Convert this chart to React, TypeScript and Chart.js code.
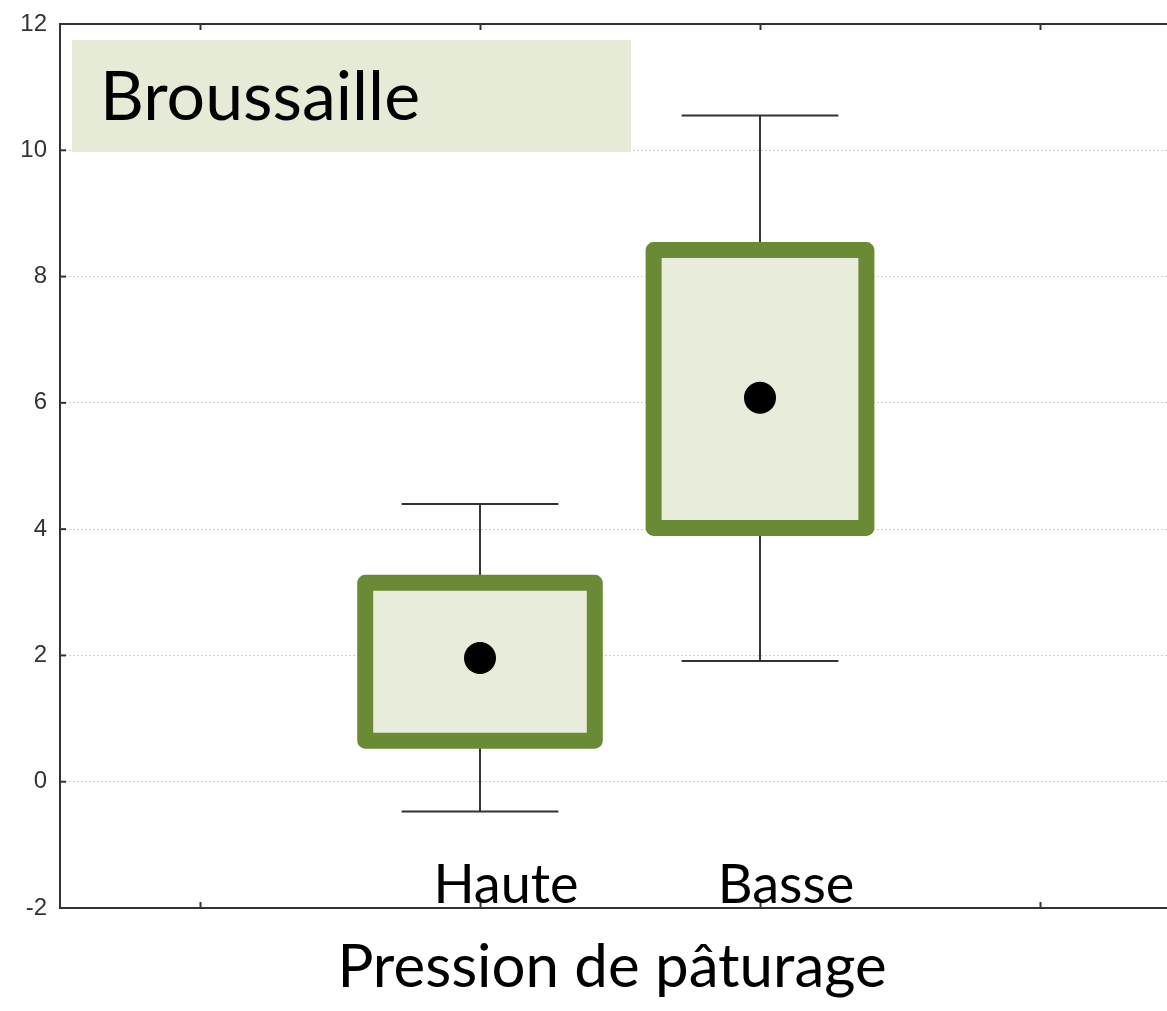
import React, { useEffect, useRef } from "react";
import { Chart, registerables } from "chart.js";

Chart.register(...registerables);

// ---- data ----
const categories = ["Haute", "Basse"];
const categoryPositions = [2, 3];
const q1Values = [0.65, 4.02];
const q3Values = [3.15, 8.42];
const meanValues = [1.96, 6.08];
const whiskerLow = [-0.47, 1.91];
const whiskerHigh = [4.4, 10.55];
const yTicks = [-2, 0, 2, 4, 6, 8, 10, 12];
const xTickPositions = [1, 2, 3, 4];
const panelTitle = "Broussaille";
const xAxisTitle = "Pression de pâturage";

// ---- style ----
const boxHalfWidth = [0.41, 0.38];
const capHalfWidth = 0.28;
const GREEN = "#6b8a35";
const BOX_FILL = "#e8eddb";
const LABEL_FONT = "Lato, 'Open Sans', sans-serif";

const W = 1167;
const H = 1011;

const drawPlugin = {
  id: "boxDraw",
  beforeDatasetsDraw(chart: any) {
    const { ctx, chartArea, scales } = chart;
    const xs = scales.x;
    const ys = scales.y;
    ctx.save();

    // top axis line
    ctx.strokeStyle = "#333";
    ctx.lineWidth = 2;
    ctx.beginPath();
    ctx.moveTo(chartArea.left, chartArea.top);
    ctx.lineTo(chartArea.right, chartArea.top);
    ctx.stroke();

    // inward ticks on x (top & bottom)
    ctx.lineWidth = 2;
    xTickPositions.forEach((v) => {
      const px = Math.round(xs.getPixelForValue(v)) + 0.5;
      ctx.beginPath();
      ctx.moveTo(px, chartArea.bottom);
      ctx.lineTo(px, chartArea.bottom - 6);
      ctx.moveTo(px, chartArea.top);
      ctx.lineTo(px, chartArea.top + 6);
      ctx.stroke();
    });
    // inward ticks on y
    yTicks.forEach((v) => {
      const py = ys.getPixelForValue(v);
      ctx.beginPath();
      ctx.moveTo(chartArea.left, py);
      ctx.lineTo(chartArea.left + 6, py);
      ctx.stroke();
    });

    // panel title box
    ctx.fillStyle = "#e6ebd8";
    ctx.fillRect(chartArea.left + 12, 40, 559, 112);
    ctx.fillStyle = "#000";
    ctx.font = `68px ${LABEL_FONT}`;
    ctx.textAlign = "left";
    ctx.textBaseline = "alphabetic";
    ctx.fillText(panelTitle, chartArea.left + 40, 120);

    // whiskers and boxes
    categories.forEach((_, i) => {
      const cx = xs.getPixelForValue(categoryPositions[i]);
      const capL = xs.getPixelForValue(categoryPositions[i] - capHalfWidth);
      const capR = xs.getPixelForValue(categoryPositions[i] + capHalfWidth);
      const yHi = ys.getPixelForValue(whiskerHigh[i]);
      const yLo = ys.getPixelForValue(whiskerLow[i]);
      const yQ3 = ys.getPixelForValue(q3Values[i]);
      const yQ1 = ys.getPixelForValue(q1Values[i]);
      ctx.strokeStyle = "#333";
      ctx.lineWidth = 2;
      ctx.beginPath();
      ctx.moveTo(cx, yHi);
      ctx.lineTo(cx, yQ3);
      ctx.moveTo(cx, yQ1);
      ctx.lineTo(cx, yLo);
      ctx.moveTo(capL, yHi);
      ctx.lineTo(capR, yHi);
      ctx.moveTo(capL, yLo);
      ctx.lineTo(capR, yLo);
      ctx.stroke();

      const bl = xs.getPixelForValue(categoryPositions[i] - boxHalfWidth[i]);
      const br = xs.getPixelForValue(categoryPositions[i] + boxHalfWidth[i]);
      ctx.fillStyle = BOX_FILL;
      ctx.fillRect(bl, yQ3, br - bl, yQ1 - yQ3);
      ctx.strokeStyle = GREEN;
      ctx.lineWidth = 16;
      ctx.lineJoin = "round";
      ctx.strokeRect(bl, yQ3, br - bl, yQ1 - yQ3);
    });
    ctx.restore();
  },
  afterDraw(chart: any) {
    const { ctx, chartArea, scales } = chart;
    const xs = scales.x;
    ctx.save();
    ctx.fillStyle = "#000";
    ctx.font = `54px ${LABEL_FONT}`;
    ctx.textAlign = "center";
    ctx.textBaseline = "alphabetic";
    categories.forEach((c, i) => {
      ctx.fillText(c, xs.getPixelForValue(categoryPositions[i]) + 26, chartArea.bottom - 5);
    });
    ctx.font = `60px ${LABEL_FONT}`;
    ctx.fillText(xAxisTitle, 612, chartArea.bottom + 79);
    ctx.restore();
  },
};

export default function App() {
  const ref = useRef<HTMLCanvasElement | null>(null);
  useEffect(() => {
    if (!ref.current) return;
    const chart = new Chart(ref.current, {
      type: "scatter",
      data: {
        datasets: [
          {
            data: meanValues.map((m, i) => ({ x: categoryPositions[i], y: m })),
            pointRadius: 16,
            pointHoverRadius: 16,
            backgroundColor: "#000",
            borderWidth: 0,
          },
        ],
      },
      options: {
        animation: false,
        responsive: false,
        devicePixelRatio: 1,
        layout: { autoPadding: false, padding: { top: 24, right: 0, left: 0, bottom: 0 } },
        plugins: { legend: { display: false }, tooltip: { enabled: false } },
        scales: {
          x: {
            type: "linear",
            min: 0.5,
            max: 0.5 + (W - 60) / 280,
            ticks: { display: false },
            grid: { display: false },
            border: { display: true, color: "#333", width: 2 },
            afterFit: (s: any) => {
              s.height = H - 908;
              s.paddingLeft = 0;
              s.paddingRight = 0;
            },
          },
          y: {
            type: "linear",
            min: -2,
            max: 12,
            afterBuildTicks: (s: any) => {
              s.ticks = yTicks.map((v) => ({ value: v }));
            },
            ticks: {
              color: "#333",
              font: { family: "'Liberation Sans', Arial, sans-serif", size: 24 },
              padding: 13,
            },
            grid: {
              drawTicks: false,
              color: (c: any) =>
                c.tick && (c.tick.value === -2 || c.tick.value === 12) ? "rgba(0,0,0,0)" : "#cfcfcf",
              lineWidth: 1,
            },
            border: { display: true, color: "#333", width: 2, dash: [2, 2] },
            afterFit: (s: any) => {
              s.width = 60;
              s.paddingTop = 0;
              s.paddingBottom = 0;
            },
          },
        },
      },
      plugins: [drawPlugin],
    });
    return () => chart.destroy();
  }, []);
  return (
    <div style={{ position: "absolute", left: 0, top: 0, width: W, height: H, background: "#fff" }}>
      <canvas ref={ref} width={W} height={H} style={{ display: "block" }} />
    </div>
  );
}
